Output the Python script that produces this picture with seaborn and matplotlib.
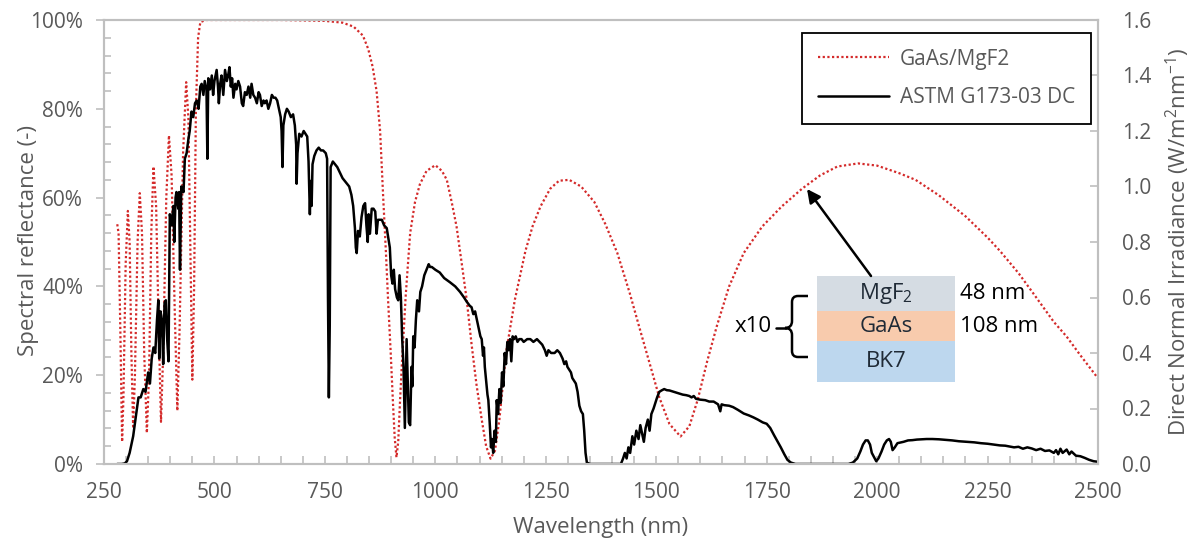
import matplotlib
matplotlib.use("Agg")
import numpy as np
import pandas as pd
import matplotlib.pyplot as plt
import seaborn as sns
from matplotlib.ticker import MultipleLocator, PercentFormatter, FormatStrFormatter
from matplotlib.patches import Rectangle, PathPatch
from matplotlib.path import Path
from matplotlib.lines import Line2D

# ---------------- data ----------------
# GaAs/MgF2 spectral reflectance, (wavelength nm, reflectance %)
GAAS_MGF2 = [
    (280, 54), (283, 52), (287, 30), (291, 5), (294, 15), (299, 45), (304, 57),
    (308, 50), (312, 25), (316, 8), (320, 20), (326, 50), (331, 61), (336, 52),
    (341, 25), (347, 7), (352, 20), (357, 52), (362, 67), (368, 58), (374, 30),
    (379, 9.5), (384, 25), (391, 60), (397, 74), (403, 65), (410, 35), (416, 12),
    (421, 30), (429, 70), (436, 86), (441, 78), (446, 45), (450, 19), (454, 40),
    (458, 80), (463, 96), (468, 99.5), (480, 100), (550, 100), (650, 100),
    (750, 99.8), (790, 99.4), (815, 98.5), (836, 96.5), (848, 93.5), (858, 89.5),
    (867, 84), (875, 75), (882, 60), (888, 48), (893, 37), (899, 25), (904, 14),
    (908, 6), (912, 1.5), (916, 5), (920, 14), (924, 22), (933, 38), (943, 52),
    (954, 59), (965, 63), (980, 66), (1000, 67.3), (1015, 66), (1026, 64),
    (1037, 59), (1048, 53.5), (1060, 45), (1071, 37), (1082, 27), (1093, 18),
    (1105, 10), (1115, 4), (1125, 1.2), (1135, 3), (1145, 10), (1160, 25),
    (1180, 37), (1204, 48), (1220, 53.5), (1238, 58), (1260, 62), (1280, 63.8),
    (1303, 64), (1330, 62.5), (1360, 59), (1385, 54), (1412, 47.5), (1440, 38.5),
    (1464, 30), (1487, 22), (1507, 15), (1530, 9), (1555, 6.2), (1575, 8.5),
    (1594, 14.5), (1615, 23), (1637, 31), (1665, 40), (1698, 47.5), (1740, 53.5),
    (1784, 58), (1830, 62), (1871, 65), (1910, 67), (1957, 67.7), (2000, 67.2),
    (2050, 65.5), (2087, 64), (2140, 60.5), (2200, 55.8), (2250, 51), (2278, 48),
    (2320, 43), (2353, 38.5), (2400, 32), (2429, 28.7), (2460, 24.5), (2500, 19.3),
]

# ASTM G173-03 direct + circumsolar irradiance, (wavelength nm, W/m2/nm)
ASTM_DC = [
    (280, 0), (290, 0), (297, 0.002), (302, 0.01), (308, 0.04), (316, 0.10),
    (322, 0.17), (328, 0.24), (333, 0.24), (339, 0.27), (344, 0.26), (350, 0.33),
    (354, 0.29), (358, 0.38), (362, 0.42), (366, 0.40), (370, 0.52), (373, 0.59),
    (375, 0.38), (378, 0.55), (381, 0.52), (384, 0.36), (387, 0.58), (390, 0.59),
    (393, 0.45), (396, 0.37), (399, 0.90), (403, 0.86), (407, 0.93), (409, 0.80),
    (412, 0.96), (414, 0.98), (418, 0.92), (420, 0.98), (422, 0.70), (425, 1.00),
    (430, 0.98), (433, 1.10), (437, 1.12), (441, 1.17), (444, 1.20), (448, 1.27),
    (452, 1.25), (456, 1.30), (460, 1.31), (464, 1.28), (468, 1.36), (471, 1.37),
    (475, 1.33), (478, 1.38), (482, 1.35), (484, 1.10), (486, 1.39), (490, 1.35),
    (494, 1.40), (497, 1.33), (500, 1.38), (505, 1.42), (508, 1.36), (510, 1.30),
    (513, 1.37), (516, 1.40), (520, 1.33), (524, 1.42), (528, 1.38), (531, 1.40),
    (534, 1.43), (537, 1.36), (540, 1.39), (543, 1.32), (547, 1.37), (550, 1.35),
    (554, 1.38), (558, 1.36), (562, 1.30), (565, 1.29), (569, 1.34), (573, 1.33),
    (577, 1.36), (581, 1.32), (584, 1.37), (588, 1.33), (592, 1.32), (596, 1.30),
    (600, 1.34), (603, 1.33), (607, 1.29), (611, 1.31), (614, 1.30), (618, 1.31),
    (622, 1.28), (626, 1.30), (630, 1.33), (634, 1.32), (638, 1.32), (642, 1.31),
    (646, 1.28), (650, 1.25), (652, 1.20), (654, 1.07), (656, 1.22), (660, 1.26),
    (664, 1.28), (668, 1.27), (673, 1.25), (678, 1.26), (682, 1.22), (685, 1.15),
    (686, 1.01), (688, 1.12), (692, 1.19), (697, 1.18), (702, 1.20), (706, 1.19),
    (710, 1.18), (713, 1.09), (716, 0.90), (718, 1.02), (720, 0.93), (722, 1.08),
    (726, 1.11), (731, 1.13), (736, 1.14), (741, 1.13), (746, 1.13), (752, 1.12),
    (755, 1.10), (757, 0.60), (759, 0.24), (761, 0.50), (763, 1.07), (768, 1.09),
    (773, 1.08), (778, 1.07), (784, 1.05), (790, 1.03), (795, 1.02), (800, 1.01),
    (805, 1.00), (810, 0.97), (814, 0.93), (818, 0.85), (820, 0.78), (822, 0.76),
    (825, 0.84), (829, 0.82), (833, 0.89), (837, 0.93), (841, 0.94), (844, 0.86),
    (847, 0.80), (849, 0.90), (852, 0.83), (856, 0.92), (860, 0.92), (864, 0.91),
    (867, 0.83), (870, 0.88), (874, 0.88), (879, 0.88), (884, 0.86), (890, 0.85),
    (894, 0.81), (897, 0.78), (900, 0.68), (903, 0.65), (906, 0.70), (909, 0.63),
    (913, 0.60), (916, 0.59), (919, 0.68), (922, 0.60), (925, 0.45), (928, 0.35),
    (930, 0.20), (931, 0.13), (933, 0.30), (935, 0.45), (937, 0.33), (940, 0.15),
    (943, 0.14), (946, 0.35), (948, 0.28), (950, 0.46), (953, 0.42), (956, 0.52),
    (959, 0.59), (963, 0.55), (966, 0.62), (970, 0.64), (975, 0.68), (980, 0.70),
    (985, 0.72), (988, 0.71), (992, 0.71), (1000, 0.70), (1010, 0.69), (1020, 0.67),
    (1033, 0.655), (1045, 0.64), (1056, 0.62), (1065, 0.60), (1071, 0.585),
    (1078, 0.57), (1082, 0.565), (1086, 0.54), (1090, 0.55), (1094, 0.52),
    (1098, 0.49), (1102, 0.46), (1105, 0.45), (1108, 0.39), (1110, 0.42),
    (1112, 0.35), (1115, 0.30), (1118, 0.25), (1120, 0.23), (1123, 0.15),
    (1126, 0.06), (1128, 0.09), (1131, 0.04), (1134, 0.12), (1137, 0.08),
    (1139, 0.23), (1142, 0.18), (1145, 0.27), (1148, 0.22), (1151, 0.33),
    (1154, 0.28), (1157, 0.40), (1160, 0.36), (1163, 0.44), (1166, 0.41),
    (1169, 0.45), (1172, 0.37), (1175, 0.46), (1178, 0.45), (1182, 0.46),
    (1186, 0.44), (1190, 0.45), (1195, 0.45), (1200, 0.44), (1208, 0.45),
    (1215, 0.45), (1222, 0.44), (1230, 0.45), (1236, 0.44), (1242, 0.43),
    (1248, 0.41), (1252, 0.39), (1256, 0.41), (1262, 0.40), (1270, 0.40),
    (1276, 0.41), (1282, 0.40), (1288, 0.38), (1292, 0.36), (1296, 0.37),
    (1299, 0.35), (1303, 0.34), (1307, 0.33), (1310, 0.31), (1314, 0.30),
    (1318, 0.29), (1322, 0.26), (1326, 0.21), (1330, 0.19), (1334, 0.18),
    (1337, 0.12), (1340, 0.04), (1343, 0.005), (1350, 0), (1400, 0), (1420, 0),
    (1425, 0.02), (1429, 0.04), (1433, 0.02), (1437, 0.06), (1441, 0.04),
    (1446, 0.10), (1450, 0.07), (1455, 0.12), (1460, 0.09), (1464, 0.14),
    (1468, 0.11), (1472, 0.08), (1476, 0.13), (1481, 0.16), (1485, 0.12),
    (1489, 0.18), (1494, 0.20), (1498, 0.22), (1502, 0.24), (1507, 0.26),
    (1512, 0.265), (1518, 0.27), (1524, 0.266), (1530, 0.265), (1540, 0.26),
    (1550, 0.255), (1560, 0.25), (1568, 0.248), (1575, 0.245), (1580, 0.24),
    (1585, 0.245), (1590, 0.235), (1599, 0.232), (1611, 0.23), (1620, 0.225),
    (1630, 0.225), (1640, 0.215), (1645, 0.19), (1648, 0.215), (1654, 0.212),
    (1665, 0.21), (1674, 0.205), (1685, 0.195), (1698, 0.182), (1710, 0.175),
    (1720, 0.168), (1730, 0.16), (1741, 0.15), (1750, 0.145), (1758, 0.13),
    (1767, 0.103), (1775, 0.08), (1782, 0.06), (1790, 0.035), (1797, 0.015),
    (1805, 0.005), (1815, 0), (1900, 0), (1935, 0), (1945, 0.005), (1955, 0.02),
    (1962, 0.045), (1968, 0.07), (1974, 0.085), (1979, 0.085), (1984, 0.07),
    (1988, 0.04), (1993, 0.025), (1998, 0.01), (2003, 0.02), (2010, 0.045),
    (2016, 0.07), (2022, 0.085), (2027, 0.09), (2031, 0.08), (2035, 0.05),
    (2040, 0.06), (2046, 0.075), (2052, 0.077), (2060, 0.08), (2070, 0.085),
    (2080, 0.086), (2090, 0.088), (2100, 0.089), (2112, 0.09), (2125, 0.09),
    (2140, 0.089), (2155, 0.087), (2170, 0.085), (2185, 0.082), (2203, 0.08),
    (2220, 0.078), (2235, 0.075), (2250, 0.073), (2265, 0.07), (2278, 0.067),
    (2290, 0.066), (2300, 0.063), (2310, 0.06), (2320, 0.062), (2330, 0.055),
    (2340, 0.06), (2350, 0.056), (2360, 0.05), (2370, 0.055), (2380, 0.047),
    (2390, 0.049), (2400, 0.04), (2405, 0.05), (2410, 0.035), (2415, 0.055),
    (2420, 0.04), (2429, 0.052), (2435, 0.035), (2440, 0.045), (2450, 0.03),
    (2460, 0.028), (2470, 0.022), (2480, 0.015), (2490, 0.01), (2500, 0.008),
]

SERIES_LABELS = ["GaAs/MgF2", "ASTM G173-03 DC"]
LAYER_NAMES = ["MgF$_2$", "GaAs", "BK7"]
LAYER_THICKNESS = ["48 nm", "108 nm"]
REPEAT_LABEL = "x10"

# ---------------- style ----------------
sns.set_theme(style="white")
plt.rcParams["font.family"] = ["Open Sans", "DejaVu Sans"]
plt.rcParams["mathtext.fontset"] = "custom"
plt.rcParams["mathtext.rm"] = "Open Sans"
plt.rcParams["mathtext.it"] = "Open Sans:italic"
plt.rcParams["mathtext.bf"] = "Open Sans:bold"

TXT = "#595959"
SPINE = "#BFBFBF"
RED = "#D42A2A"
LAYER_COLORS = ["#D5DCE3", "#F8CBAD", "#BDD7EE"]
LAYER_TXT = "#1F2A36"

W, H = 1201, 547
L, R_, T, B = 104, 1098, 20, 464

fig = plt.figure(figsize=(W / 100, H / 100), dpi=100)
ax = fig.add_axes([L / W, 1 - B / H, (R_ - L) / W, (B - T) / H])
ax2 = ax.twinx()

refl = pd.DataFrame(GAAS_MGF2, columns=["wl", "R"])
irr = pd.DataFrame(ASTM_DC, columns=["wl", "I"])

sns.lineplot(data=refl, x="wl", y="R", ax=ax, color=RED, lw=1.6,
             linestyle=(0, (1, 1.1)), estimator=None, sort=False, legend=False)
sns.lineplot(data=irr, x="wl", y="I", ax=ax2, color="black", lw=1.8,
             estimator=None, sort=False, legend=False)

# axes limits/ticks
ax.set_xlim(250, 2500)
ax.set_ylim(0, 100)
ax2.set_ylim(0, 1.6)
ax.xaxis.set_major_locator(MultipleLocator(250))
ax.xaxis.set_minor_locator(MultipleLocator(50))
ax.yaxis.set_major_locator(MultipleLocator(20))
ax.yaxis.set_minor_locator(MultipleLocator(4))
ax.yaxis.set_major_formatter(PercentFormatter(decimals=0))
ax2.yaxis.set_major_locator(MultipleLocator(0.2))
ax2.yaxis.set_major_formatter(FormatStrFormatter("%.1f"))

FS_TICK = 15
ax.tick_params(axis="x", which="both", direction="in", length=6, width=1.2,
               color=SPINE, labelsize=FS_TICK, labelcolor=TXT, pad=13,
               bottom=True, top=False)
ax.tick_params(axis="y", which="major", direction="out", length=6, width=1.2,
               color=SPINE, labelsize=FS_TICK, labelcolor=TXT, pad=9, left=True)
ax.tick_params(axis="y", which="minor", direction="in", length=5, width=1.2,
               color=SPINE, left=True)
ax2.tick_params(axis="y", which="major", direction="in", length=6, width=1.2,
                color=SPINE, labelsize=FS_TICK, labelcolor=TXT, pad=17, right=True)

for a in (ax, ax2):
    for s in a.spines.values():
        s.set_color(SPINE)
        s.set_linewidth(1.5)

FS_LAB = 16
ax.set_xlabel("Wavelength (nm)", fontsize=FS_LAB, color=TXT)
ax.set_ylabel("Spectral reflectance (-)", fontsize=FS_LAB, color=TXT)
ax2.set_ylabel("Direct Normal Irradiance (W/m$^2$nm$^{-1}$)", fontsize=FS_LAB, color=TXT)
ax.xaxis.set_label_coords(0.5, (B - 517) / (B - T))
ax.yaxis.set_label_coords((39 - L) / (R_ - L), (B - 240) / (B - T))
ax2.yaxis.set_label_coords((1164 - L) / (R_ - L), (B - 242) / (B - T))

# legend
handles = [Line2D([], [], color=RED, lw=1.6, linestyle=(0, (1, 1.1))),
           Line2D([], [], color="black", lw=1.8)]
leg = ax2.legend(handles, SERIES_LABELS, loc="upper right",
                 bbox_to_anchor=((1091 - L) / (R_ - L), (B - 33) / (B - T)),
                 frameon=True, fancybox=False, edgecolor="black", framealpha=1,
                 fontsize=15, handlelength=3.4, handletextpad=0.55,
                 labelspacing=0.85, borderpad=0.75, borderaxespad=0)
leg.get_frame().set_linewidth(1.3)
for t in leg.get_texts():
    t.set_color(TXT)


# ---------------- inset (layer stack) ----------------
def P(px, py):
    return ((px - L) / (R_ - L), (B - py) / (B - T))


tA = ax2.transAxes
bx0, bx1 = 817, 955
layer_edges = [276, 311, 341, 382]
for i, name in enumerate(LAYER_NAMES):
    y0, y1 = layer_edges[i], layer_edges[i + 1]
    x0, yb = P(bx0, y1)
    x1, yt = P(bx1, y0)
    ax2.add_patch(Rectangle((x0, yb), x1 - x0, yt - yb, transform=tA,
                            facecolor=LAYER_COLORS[i], edgecolor="none", zorder=5))
    cx, cy = P((bx0 + bx1) / 2, (y0 + y1) / 2)
    ax2.text(cx, cy, name, transform=tA, ha="center", va="center",
             fontsize=16, color=LAYER_TXT, zorder=6)

for lbl, yc in zip(LAYER_THICKNESS, [293.5, 326]):
    x, y = P(960, yc)
    ax2.text(x, y, lbl, transform=tA, ha="left", va="center", fontsize=16,
             color="black", zorder=6)

x, y = P(772, 327)
ax2.text(x, y, REPEAT_LABEL, transform=tA, ha="right", va="center",
         fontsize=16, color="black", zorder=6)

M, LT, C3 = Path.MOVETO, Path.LINETO, Path.CURVE3
brace_px = [(808, 296), (798, 296), (792, 296), (792, 302), (792, 321),
            (792, 328), (785, 328), (792, 328), (792, 335), (792, 351),
            (792, 357), (798, 357), (808, 357)]
codes = [M, LT, C3, C3, LT, C3, C3, C3, C3, LT, C3, C3, LT]
brace = Path([P(*p) for p in brace_px], codes)
ax2.add_patch(PathPatch(brace, transform=tA, facecolor="none",
                        edgecolor="black", lw=1.8, zorder=6))
ax2.add_line(Line2D([P(776, 328)[0], P(786, 328)[0]],
                    [P(776, 328)[1], P(786, 328)[1]], transform=tA,
                    color="black", lw=1.8, zorder=6))

ax2.annotate("", xy=P(807, 189), xytext=P(871, 276),
             xycoords=tA, textcoords=tA,
             arrowprops=dict(arrowstyle="-|>", color="black", lw=1.8,
                             mutation_scale=20, shrinkA=0, shrinkB=0),
             zorder=6)

fig.savefig("out.png", dpi=100)
